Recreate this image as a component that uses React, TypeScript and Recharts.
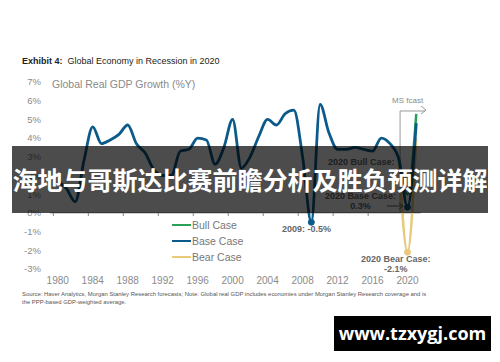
import { LineChart, Line, XAxis, YAxis, ReferenceLine, ReferenceDot } from "recharts";

const YEARS = [
  1980, 1981, 1982, 1983, 1984, 1985, 1986, 1987, 1988, 1989,
  1990, 1991, 1992, 1993, 1994, 1995, 1996, 1997, 1998, 1999,
  2000, 2001, 2002, 2003, 2004, 2005, 2006, 2007, 2008, 2009,
  2010, 2011, 2012, 2013, 2014, 2015, 2016, 2017, 2018, 2019,
  2020, 2021,
];
const BASE = [
  1.7, 1.3, 0.6, 2.8, 4.6, 3.7, 3.9, 4.2, 4.7, 3.7,
  3.2, 2.3, 2.0, 2.0, 3.3, 3.4, 4.0, 3.9, 2.6, 3.5,
  5.0, 2.4, 3.0, 4.1, 5.0, 4.7, 5.3, 5.5, 3.0, -0.5,
  5.8, 4.3, 3.4, 3.4, 3.5, 3.4, 3.3, 4.0, 3.7, 2.9,
  0.3, 4.8,
];
const FCAST_YEARS = [2019, 2020, 2021];
const BULL = [2.9, 1.0, 5.3];
const BEAR = [2.9, -2.1, 4.0];

const X_TICKS = [1980, 1984, 1988, 1992, 1996, 2000, 2004, 2008, 2012, 2016, 2020];
const Y_TICKS = [-3, -2, -1, 0, 1, 2, 3, 4, 5, 6, 7];
const ZERO_TICKS = [1979.5, 1983.5, 1987.5, 1991.5, 1995.5, 1999.5, 2003.5, 2007.5, 2011.5, 2015.5, 2019.5];

const rows = YEARS.map((year, i) => {
  const f = FCAST_YEARS.indexOf(year);
  return {
    year,
    base: BASE[i],
    bull: f >= 0 ? BULL[f] : null,
    bear: f >= 0 ? BEAR[f] : null,
  };
});

const BLUE = "#0b5a8a";
const GREEN = "#2ca05a";
const GOLD = "#e9c97a";
const FONT = "'Liberation Sans', Arial, sans-serif";

const note: React.CSSProperties = {
  position: "absolute",
  fontSize: 9,
  fontWeight: 600,
  color: "#666",
  textAlign: "center",
  whiteSpace: "nowrap",
  lineHeight: "10px",
};

function LegendRow({ color, label, top }: { color: string; label: string; top: number }) {
  return (
    <div style={{ position: "absolute", left: 172, top, display: "flex", alignItems: "center" }}>
      <div style={{ width: 19, height: 2.5, background: color }} />
      <span style={{ fontSize: 10.5, color: "#777", marginLeft: 1 }}>{label}</span>
    </div>
  );
}

export default function App() {
  return (
    <div
      style={{
        position: "fixed",
        left: 0,
        top: 0,
        width: 500,
        height: 362,
        background: "#fff",
        fontFamily: FONT,
        overflow: "hidden",
      }}
    >
      <div style={{ position: "absolute", left: 22, top: 56, fontSize: 9, color: "#222" }}>
        <b>Exhibit 4:</b>&nbsp; Global Economy in Recession in 2020
      </div>
      <div style={{ position: "absolute", left: 52, top: 78, fontSize: 10.5, color: "#8a8a8a" }}>
        Global Real GDP Growth (%Y)
      </div>

      <LineChart
        width={500}
        height={362}
        data={rows}
        margin={{ top: 82, right: 75, bottom: 63, left: 0 }}
        style={{ position: "absolute", left: 0, top: 0 }}
      >
        <XAxis
          dataKey="year"
          type="number"
          domain={[1979, 2022]}
          ticks={X_TICKS}
          axisLine={false}
          tickLine={false}
          height={30}
          tick={{ fontSize: 10, fill: "#8a8a8a" }}
          allowDataOverflow
        />
        <YAxis
          domain={[-3, 7]}
          ticks={Y_TICKS}
          width={49}
          axisLine={false}
          tickLine={false}
          tickFormatter={(v: number) => `${v}%`}
          tick={{ fontSize: 9.5, fill: "#8a8a8a" }}
        />
        <ReferenceLine
          segment={[{ x: 1979.1, y: 0 }, { x: 2021.5, y: 0 }]}
          stroke="#888"
          strokeWidth={1}
        />
        {ZERO_TICKS.map((t) => (
          <ReferenceLine
            key={t}
            segment={[{ x: t, y: 0 }, { x: t, y: -0.17 }]}
            stroke="#888"
            strokeWidth={1}
          />
        ))}
        <ReferenceLine
          segment={[{ x: 2019.15, y: 0 }, { x: 2019.15, y: 5.45 }]}
          stroke="#999"
          strokeWidth={1}
        />
        <ReferenceLine
          segment={[{ x: 2019.15, y: 5.45 }, { x: 2022, y: 5.45 }]}
          stroke="#999"
          strokeWidth={1}
          ifOverflow="visible"
        />
        <Line
          dataKey="bear"
          stroke={GOLD}
          strokeWidth={2.5}
          dot={false}
          type="monotone"
          isAnimationActive={false}
        />
        <Line
          dataKey="bull"
          stroke={GREEN}
          strokeWidth={2.5}
          dot={false}
          type="monotone"
          isAnimationActive={false}
        />
        <Line
          dataKey="base"
          stroke={BLUE}
          strokeWidth={2.8}
          dot={false}
          type="monotone"
          isAnimationActive={false}
        />
        <ReferenceDot x={2009} y={-0.5} r={3} fill={BLUE} stroke={BLUE} />
        <ReferenceDot x={2020} y={0.3} r={3} fill={BLUE} stroke={BLUE} />
        <ReferenceDot x={2020} y={-2.1} r={3} fill={GOLD} stroke={GOLD} />
      </LineChart>

      <svg style={{ position: "absolute", left: 0, top: 0 }} width={500} height={362}>
        <polyline points="421,106 426,110 421,114" fill="none" stroke="#999" strokeWidth={1} />
        <line x1={387} y1={206} x2={403} y2={206} stroke="#666" strokeWidth={1} />
        <polyline points="399,203 403,206 399,209" fill="none" stroke="#666" strokeWidth={1} />
      </svg>

      <div style={{ position: "absolute", left: 392, top: 96, fontSize: 8, color: "#8a8a8a" }}>MS fcast</div>
      <div style={{ ...note, left: 328, top: 157 }}>2020 Bull Case:</div>
      <div style={{ ...note, left: 325, top: 191 }}>
        2020 Base Case:
        <br />
        0.3%
      </div>
      <div style={{ ...note, left: 282, top: 224 }}>2009: -0.5%</div>
      <div style={{ ...note, left: 361, top: 254 }}>
        2020 Bear Case:
        <br />
        -2.1%
      </div>

      <LegendRow color={GREEN} label="Bull Case" top={219} />
      <LegendRow color={BLUE} label="Base Case" top={235} />
      <LegendRow color={GOLD} label="Bear Case" top={251} />

      <div
        style={{
          position: "absolute",
          left: 22,
          top: 290,
          fontSize: 5.9,
          color: "#555",
          lineHeight: "8px",
          whiteSpace: "nowrap",
        }}
      >
        Source: Haver Analytics, Morgan Stanley Research forecasts; Note: Global real GDP includes economies under
        Morgan Stanley Research coverage and is
        <br />
        the PPP-based GDP-weighted average.
      </div>

      <div
        style={{
          position: "absolute",
          left: 12,
          top: 146,
          width: 476,
          height: 67,
          background: "rgba(0,0,0,0.7)",
          color: "#fff",
          fontFamily: "'Noto Sans CJK SC', sans-serif",
          fontWeight: 700,
          fontSize: 25,
          lineHeight: "67px",
          textAlign: "center",
          whiteSpace: "nowrap",
        }}
      >
        海地与哥斯达比赛前瞻分析及胜负预测详解
      </div>

      <div
        style={{
          position: "absolute",
          left: 334,
          top: 316,
          width: 157,
          height: 35,
          background: "#000",
          color: "#fff",
          fontFamily: "'Open Sans', sans-serif",
          fontWeight: 700,
          fontSize: 18,
          lineHeight: "35px",
          textAlign: "center",
        }}
      >
        www.tzxygj.com
      </div>
    </div>
  );
}
